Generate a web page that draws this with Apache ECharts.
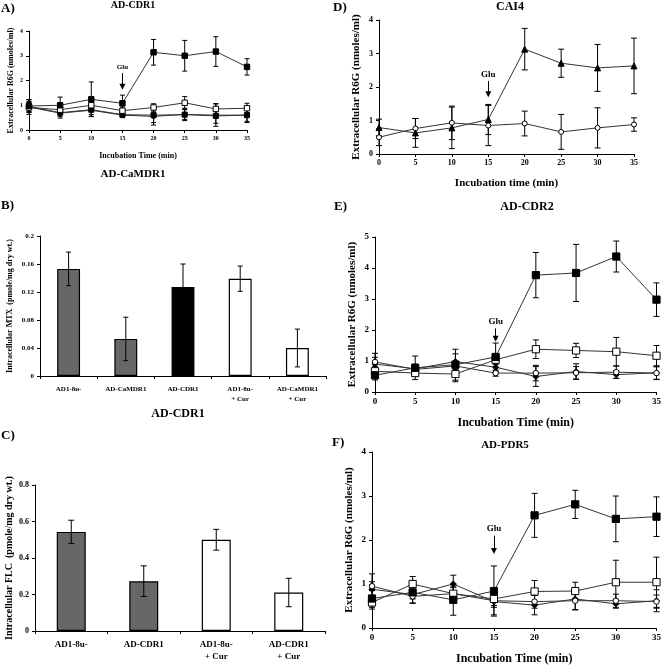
<!DOCTYPE html>
<html><head><meta charset="utf-8">
<script src="https://cdn.jsdelivr.net/npm/echarts@6/dist/echarts.min.js"></script>
<style>html,body{margin:0;padding:0;background:#fff}#c{width:664px;height:666px}</style>
</head><body><div id="c"></div>
<script>
// ---------- data ----------
const times = [0, 5, 10, 15, 20, 25, 30, 35];

// Panel A (AD-CDR1)
const aFilledSq = [0.97, 1.0, 1.24, 1.08, 3.14, 3.0, 3.17, 2.55];
const aFilledSqErr = [0.25, 0.33, 0.7, 0.33, 0.52, 0.62, 0.6, 0.33];
const aOpenSq = [0.91, 0.82, 1.0, 0.78, 0.91, 1.1, 0.85, 0.88];
const aOpenSqErr = [0.2, 0.15, 0.2, 0.15, 0.15, 0.25, 0.22, 0.2];
const aFilledDia = [0.93, 0.68, 0.8, 0.6, 0.55, 0.63, 0.6, 0.6];
const aFilledDiaErr = [0.3, 0.2, 0.25, 0.1, 0.35, 0.25, 0.45, 0.3];
const aFilledTri = [0.95, 0.7, 0.82, 0.62, 0.6, 0.62, 0.57, 0.6];
const aFilledTriErr = [0.2, 0.15, 0.2, 0.1, 0.3, 0.2, 0.3, 0.25];

// Panel B (intracellular MTX)
const bCats = ['AD1-8u-', 'AD-CaMDR1', 'AD-CDR1', 'AD1-8u-\n+ Cur', 'AD-CaMDR1\n+ Cur'];
const bVals = [0.153, 0.053, 0.127, 0.139, 0.04];
const bErrs = [0.024, 0.031, 0.033, 0.018, 0.027];

// Panel C (intracellular FLC)
const cCats = ['AD1-8u-', 'AD-CDR1', 'AD1-8u-\n+ Cur', 'AD-CDR1\n+ Cur'];
const cVals = [0.543, 0.273, 0.5, 0.211];
const cErrs = [0.064, 0.084, 0.057, 0.078];

// Panel D (CAI4)
const dFilledTri = [0.79, 0.63, 0.78, 1.03, 3.13, 2.71, 2.57, 2.63];
const dFilledTriErr = [0.25, 0.43, 0.62, 0.45, 0.62, 0.42, 0.7, 0.83];
const dOpenCirc = [0.5, 0.76, 0.93, 0.85, 0.91, 0.66, 0.78, 0.88];
const dOpenCircErr = [0.25, 0.3, 0.5, 0.6, 0.37, 0.52, 0.6, 0.2];

// Panel E (AD-CDR2)
const eFilledSq = [0.54, 0.78, 0.88, 1.13, 3.77, 3.84, 4.37, 2.98];
const eFilledSqErr = [0.15, 0.38, 0.5, 0.45, 0.73, 0.92, 0.5, 0.54];
const eOpenSq = [0.67, 0.61, 0.58, 1.04, 1.38, 1.34, 1.3, 1.17];
const eOpenSqErr = [0.1, 0.1, 0.25, 0.15, 0.3, 0.23, 0.46, 0.33];
const eFilledDia = [0.9, 0.75, 0.98, 0.8, 0.5, 0.66, 0.56, 0.62];
const eFilledDiaErr = [0.35, 0.15, 0.25, 0.2, 0.32, 0.25, 0.12, 0.22];
const eOpenCirc = [0.97, 0.73, 0.84, 0.61, 0.61, 0.62, 0.64, 0.61];
const eOpenCircErr = [0.15, 0.1, 0.15, 0.1, 0.25, 0.2, 0.2, 0.2];

// Panel F (AD-PDR5)
const fFilledSq = [0.67, 0.81, 0.64, 0.84, 2.56, 2.81, 2.48, 2.53];
const fFilledSqErr = [0.2, 0.15, 0.35, 0.57, 0.5, 0.32, 0.52, 0.45];
const fOpenSq = [0.58, 1.0, 0.78, 0.66, 0.83, 0.84, 1.04, 1.04];
const fOpenSqErr = [0.15, 0.17, 0.15, 0.15, 0.25, 0.2, 0.5, 0.57];
const fFilledDia = [0.88, 0.76, 1.0, 0.6, 0.52, 0.66, 0.55, 0.62];
const fFilledDiaErr = [0.35, 0.2, 0.2, 0.3, 0.22, 0.25, 0.1, 0.25];
const fOpenCirc = [0.95, 0.72, 0.78, 0.62, 0.6, 0.62, 0.62, 0.6];
const fOpenCircErr = [0.1, 0.15, 0.15, 0.15, 0.15, 0.2, 0.15, 0.15];

// ---------- helpers ----------
const FONT = '"Liberation Serif", "DejaVu Serif", serif';
const axisLineBlack = { show: true, lineStyle: { color: '#000', width: 1 } };

function errSeries(ax, xs, ys, es, w, z) {
  return {
    type: 'custom', xAxisIndex: ax, yAxisIndex: ax, z: z || 1, silent: true,
    data: xs.map((x, i) => [x, ys[i], es[i]]),
    encode: { x: 0, y: 1 },
    renderItem: function (params, api) {
      const x = api.value(0), y = api.value(1), e = api.value(2);
      const hi = api.coord([x, y + e]), lo = api.coord([x, y - e]);
      const st = { stroke: '#000', lineWidth: 1 };
      return { type: 'group', children: [
        { type: 'line', shape: { x1: hi[0], y1: hi[1], x2: lo[0], y2: lo[1] }, style: st },
        { type: 'line', shape: { x1: hi[0] - w, y1: hi[1], x2: hi[0] + w, y2: hi[1] }, style: st },
        { type: 'line', shape: { x1: lo[0] - w, y1: lo[1], x2: lo[0] + w, y2: lo[1] }, style: st }
      ] };
    }
  };
}

const markerStyles = {
  filledSq: { symbol: 'rect', fill: '#000', size: 6 },
  openSq: { symbol: 'rect', fill: '#fff', size: 6 },
  filledDia: { symbol: 'diamond', fill: '#000', size: 6 },
  filledTri: { symbol: 'triangle', fill: '#000', size: 6 },
  openCirc: { symbol: 'circle', fill: '#fff', size: 5 }
};

function lineSeries(ax, ys, kind, sizeScale, glu) {
  const m = markerStyles[kind];
  const s = {
    type: 'line', xAxisIndex: ax, yAxisIndex: ax, z: 3,
    data: times.map((t, i) => [t, ys[i]]),
    symbol: m.symbol, symbolSize: m.size * (sizeScale || 1), showAllSymbol: true,
    itemStyle: { color: m.fill, borderColor: '#000', borderWidth: 1 },
    lineStyle: { color: '#333', width: 1 }
  };
  if (glu) {
    s.markLine = {
      silent: true, animation: false,
      symbol: ['none', 'triangle'], symbolSize: [6, 6],
      lineStyle: { color: '#000', width: 1, type: 'solid' },
      label: { show: true, position: 'start', formatter: 'Glu', color: '#000',
        fontFamily: FONT, fontWeight: 'bold', fontSize: glu.fs, distance: 2 },
      data: [[{ coord: [15, glu.top] }, { coord: [15, glu.bottom] }]]
    };
  }
  return s;
}

function grid(left, top, width, height) { return { left, top, width, height, containLabel: false }; }

function timeXAxis(gi, fs, nameFs, nameGap, name) {
  return {
    type: 'value', gridIndex: gi, min: 0, max: 35, interval: 5,
    axisLine: axisLineBlack, splitLine: { show: false },
    axisTick: { show: true, length: 3, lineStyle: { color: '#000' } },
    axisLabel: { color: '#000', fontFamily: FONT, fontWeight: 'bold', fontSize: fs, margin: 5 },
    name: name, nameLocation: 'middle', nameGap: nameGap,
    nameTextStyle: { color: '#000', fontFamily: FONT, fontWeight: 'bold', fontSize: nameFs }
  };
}
function valYAxis(gi, max, interval, fs, name, nameFs, nameGap) {
  return {
    type: 'value', gridIndex: gi, min: 0, max: max, interval: interval,
    axisLine: axisLineBlack, splitLine: { show: false },
    axisTick: { show: true, length: 3, lineStyle: { color: '#000' } },
    axisLabel: { color: '#000', fontFamily: FONT, fontWeight: 'bold', fontSize: fs, margin: 6 },
    name: name, nameLocation: 'middle', nameRotate: 90, nameGap: nameGap,
    nameTextStyle: { color: '#000', fontFamily: FONT, fontWeight: 'bold', fontSize: nameFs }
  };
}
function catXAxis(gi, cats, fs) {
  return {
    type: 'category', gridIndex: gi, data: cats,
    axisLine: axisLineBlack,
    axisTick: { show: true, length: 3, alignWithLabel: false, lineStyle: { color: '#000' } },
    axisLabel: { color: '#000', fontFamily: FONT, fontWeight: 'bold', fontSize: fs, margin: 8, interval: 0, lineHeight: fs + 3 }
  };
}

function barSeries(ax, vals, fills) {
  return {
    type: 'bar', xAxisIndex: ax, yAxisIndex: ax, z: 2, barWidth: '40%',
    data: vals.map((v, i) => ({ value: v, itemStyle: { color: fills[i], borderColor: '#000', borderWidth: 1.2 } }))
  };
}

function txt(x, y, text, size, align) {
  return { type: 'text', x: x, y: y, silent: true,
    style: { text: text, fill: '#000', font: 'bold ' + size + 'px ' + FONT,
      align: align || 'center', verticalAlign: 'middle' } };
}

const yName = 'Extracellular R6G (nmoles/ml)';
const idx = [0, 1, 2, 3, 4];

const option = {
  animation: false,
  backgroundColor: '#fff',
  grid: [
    grid(29, 31, 218, 99),    // A
    grid(40, 236, 286, 140),  // B
    grid(35, 485, 290, 146),  // C
    grid(379, 20, 255, 134),  // D
    grid(375, 237, 283, 155), // E
    grid(372, 452, 286, 177)  // F
  ],
  xAxis: [
    timeXAxis(0, 6, 8, 22, 'Incubation Time (min)'),
    catXAxis(1, bCats, 7),
    catXAxis(2, cCats, 9),
    timeXAxis(3, 8, 11, 24, 'Incubation time (min)'),
    timeXAxis(4, 9, 12, 25, 'Incubation Time (min)'),
    timeXAxis(5, 9, 12, 25, 'Incubation Time (min)')
  ],
  yAxis: [
    valYAxis(0, 4, 1, 6, yName, 8, 14),
    valYAxis(1, 0.2, 0.04, 7, 'Intracellular MTX  (pmole/mg dry wt.)', 8, 26),
    valYAxis(2, 0.8, 0.2, 8, 'Intracellular FLC  (pmole/mg dry wt.)', 10, 21),
    valYAxis(3, 4, 1, 8, yName, 11, 17),
    valYAxis(4, 5, 1, 9, yName, 11, 17),
    valYAxis(5, 4, 1, 9, yName, 11, 17)
  ],
  series: [
    // A
    errSeries(0, times, aFilledSq, aFilledSqErr, 2.5),
    errSeries(0, times, aOpenSq, aOpenSqErr, 2.5),
    errSeries(0, times, aFilledDia, aFilledDiaErr, 2.5),
    errSeries(0, times, aFilledTri, aFilledTriErr, 2.5),
    lineSeries(0, aFilledDia, 'filledDia', 0.9),
    lineSeries(0, aFilledTri, 'filledSq', 0.85),
    lineSeries(0, aOpenSq, 'openSq', 0.9),
    lineSeries(0, aFilledSq, 'filledSq', 0.9, { top: 2.3, bottom: 1.75, fs: 7 }),
    // B
    barSeries(1, bVals, ['#676767', '#676767', '#000', '#fff', '#fff']),
    errSeries(1, idx, bVals, bErrs, 2.5, 5),
    // C
    barSeries(2, cVals, ['#676767', '#676767', '#fff', '#fff']),
    errSeries(2, [0, 1, 2, 3], cVals, cErrs, 3, 5),
    // D
    errSeries(3, times, dFilledTri, dFilledTriErr, 3),
    errSeries(3, times, dOpenCirc, dOpenCircErr, 3),
    lineSeries(3, dOpenCirc, 'openCirc', 1),
    lineSeries(3, dFilledTri, 'filledTri', 1, { top: 2.18, bottom: 1.78, fs: 9 }),
    // E
    errSeries(4, times, eFilledSq, eFilledSqErr, 3),
    errSeries(4, times, eOpenSq, eOpenSqErr, 3),
    errSeries(4, times, eFilledDia, eFilledDiaErr, 3),
    errSeries(4, times, eOpenCirc, eOpenCircErr, 3),
    lineSeries(4, eFilledDia, 'filledDia', 1),
    lineSeries(4, eOpenCirc, 'openCirc', 1.1),
    lineSeries(4, eOpenSq, 'openSq', 1.2),
    lineSeries(4, eFilledSq, 'filledSq', 1.2, { top: 2.05, bottom: 1.72, fs: 9 }),
    // F
    errSeries(5, times, fFilledSq, fFilledSqErr, 3),
    errSeries(5, times, fOpenSq, fOpenSqErr, 3),
    errSeries(5, times, fFilledDia, fFilledDiaErr, 3),
    errSeries(5, times, fOpenCirc, fOpenCircErr, 3),
    lineSeries(5, fFilledDia, 'filledDia', 1),
    lineSeries(5, fOpenCirc, 'openCirc', 1.1),
    lineSeries(5, fOpenSq, 'openSq', 1.2),
    lineSeries(5, fFilledSq, 'filledSq', 1.2, { top: 2.1, bottom: 1.75, fs: 9 })
  ],
  graphic: [
    txt(1, 9, 'A)', 13, 'left'),
    txt(133, 5, 'AD-CDR1', 10),
    txt(133, 174, 'AD-CaMDR1', 11),
    txt(1, 206, 'B)', 13, 'left'),
    txt(178, 414, 'AD-CDR1', 12),
    txt(1, 436, 'C)', 13, 'left'),
    txt(333, 8, 'D)', 13, 'left'),
    txt(510, 7, 'CAI4', 12),
    txt(334, 207, 'E)', 13, 'left'),
    txt(527, 207, 'AD-CDR2', 12),
    txt(332, 443, 'F)', 13, 'left'),
    txt(505, 445, 'AD-PDR5', 11)
  ]
};

const chart = echarts.init(document.getElementById('c'), null, { renderer: 'canvas' });
chart.setOption(option);
</script>
</body></html>
